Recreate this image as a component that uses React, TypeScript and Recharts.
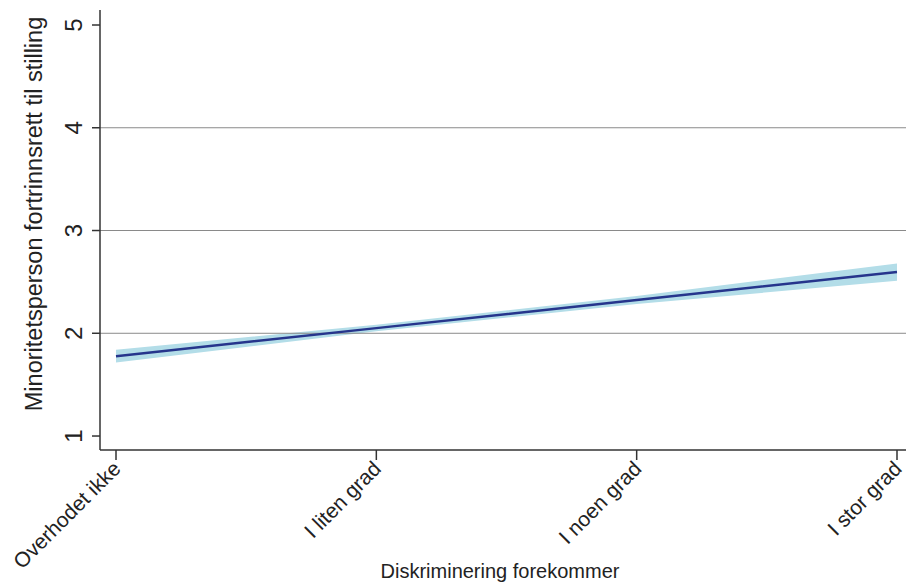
import React from "react"
import { ComposedChart, Area, Line, XAxis, YAxis, ReferenceLine } from "recharts"

// Kategorier langs x-aksen
const categories = ["Overhodet ikke", "I liten grad", "I noen grad", "I stor grad"]
// Predikert verdi og konfidensintervall
const predicted = [1.777, 2.05, 2.323, 2.596]
const ciLower = [1.715, 2.02, 2.285, 2.51]
const ciUpper = [1.84, 2.082, 2.362, 2.68]
const yTicks = [1, 2, 3, 4, 5]
const gridValues = [2, 3, 4]

const font = "'Liberation Sans', Arial, Helvetica, sans-serif"
const axisColor = "#333333"

const YTick = ({ x, y, payload }: any) => (
  <text
    x={x - 8}
    y={y}
    transform={`rotate(-90 ${x - 8} ${y})`}
    textAnchor="middle"
    fontFamily={font}
    fontSize={24}
    fill="#222"
  >
    {payload.value}
  </text>
)

const XTick = ({ x, y, payload }: any) => (
  <text
    x={x + 6}
    y={y + 8}
    transform={`rotate(-45 ${x + 6} ${y + 8})`}
    textAnchor="end"
    fontFamily={font}
    fontSize={21}
    fill="#222"
  >
    {payload.value}
  </text>
)

export default function App() {
  const data = categories.map((c, i) => ({
    name: c,
    fit: predicted[i],
    ci: [ciLower[i], ciUpper[i]],
  }))

  return (
    <div style={{ position: "absolute", left: 0, top: 0, background: "#fff" }}>
      <ComposedChart width={906} height={585} data={data} margin={{ top: 10, right: 0, left: 0, bottom: 0 }}>
        {gridValues.map((v) => (
          <ReferenceLine key={v} y={v} stroke="#8a8a8a" strokeWidth={1} />
        ))}
        <XAxis
          dataKey="name"
          type="category"
          padding={{ left: 16, right: 9 }}
          height={135}
          interval={0}
          tickSize={10}
          stroke={axisColor}
          strokeWidth={1.5}
          tick={<XTick />}
          label={{
            content: () => (
              <text x={500} y={578} textAnchor="middle" fontFamily={font} fontSize={20} fill="#222">
                Diskriminering forekommer
              </text>
            ),
          }}
        />
        <YAxis
          type="number"
          domain={[0.864, 5.146]}
          ticks={yTicks}
          allowDataOverflow
          width={100}
          tickSize={8}
          stroke={axisColor}
          strokeWidth={1.5}
          tick={<YTick />}
          label={{
            content: () => (
              <text
                x={42}
                y={214}
                transform="rotate(-90 42 214)"
                textAnchor="middle"
                fontFamily={font}
                fontSize={23.5}
                fill="#222"
              >
                Minoritetsperson fortrinnsrett til stilling
              </text>
            ),
          }}
        />
        <Area
          dataKey="ci"
          type="linear"
          stroke="none"
          fill="#b3dde8"
          fillOpacity={1}
          isAnimationActive={false}
        />
        <Line
          dataKey="fit"
          type="linear"
          stroke="#26358c"
          strokeWidth={2.5}
          dot={false}
          isAnimationActive={false}
        />
      </ComposedChart>
    </div>
  )
}
